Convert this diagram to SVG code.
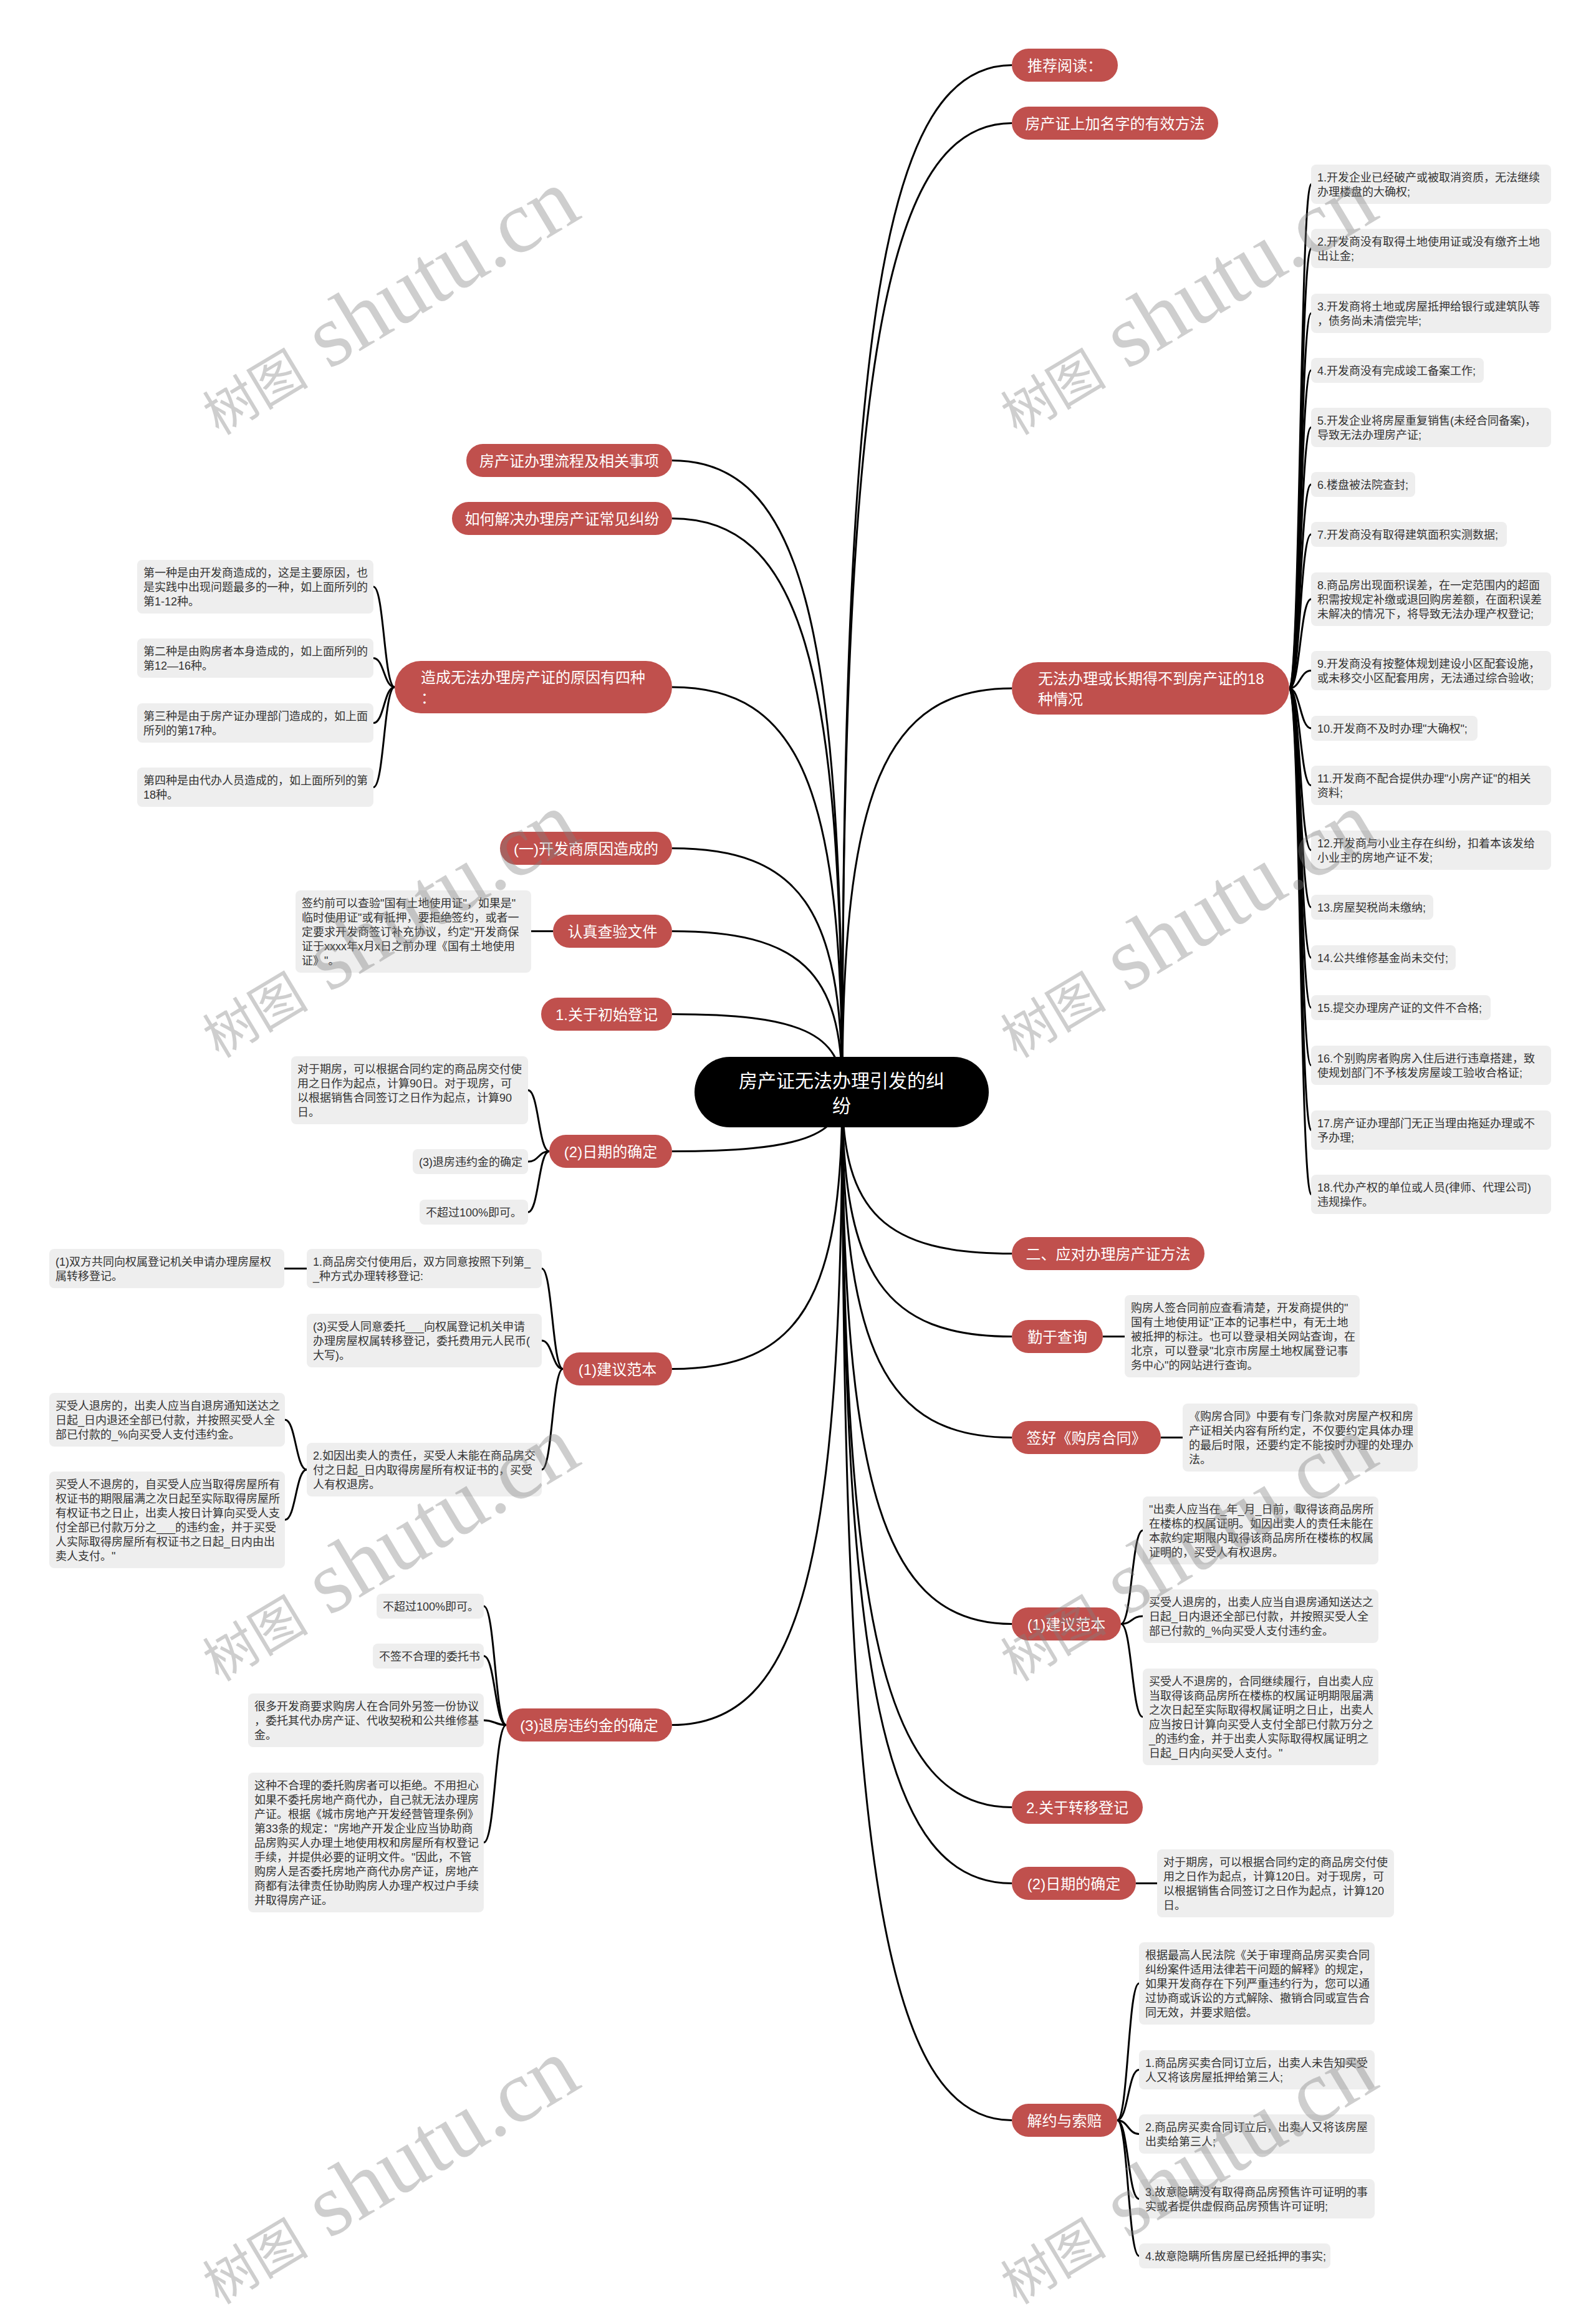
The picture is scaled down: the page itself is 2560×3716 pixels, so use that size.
<svg xmlns="http://www.w3.org/2000/svg" width="2560" height="3716" viewBox="0 0 2560 3716">
<style>
text{font-family:"Liberation Sans","Noto Sans CJK SC",sans-serif}
.p{fill:#C0504D}
.pt{font-size:24px;fill:#fff}
.pc{text-anchor:middle}
.l{fill:#EEEEEE}
.lt{font-size:18px;fill:#333}
.c path{fill:none;stroke:#000;stroke-width:3}
.wm text{font-family:"Liberation Serif","Noto Sans CJK SC",serif;fill:#808080;opacity:.38}
</style>
<rect width="2560" height="3716" fill="#fff"/>
<g id="connectors" class="c">
<path d="M1351,1751 C1351,516 1419,104.5 1623,104.5"/>
<path d="M1351,1751 C1351,586 1419,197.5 1623,197.5"/>
<path d="M1351,1751 C1351,1266 1419,1104 1623,1104"/>
<path d="M1351,1751 C1351,1945 1419,2010.5 1623,2010.5"/>
<path d="M1351,1751 C1351,2045 1419,2143.5 1623,2143.5"/>
<path d="M1351,1751 C1351,2166 1419,2305.5 1623,2305.5"/>
<path d="M1351,1751 C1351,2391 1419,2604.5 1623,2604.5"/>
<path d="M1351,1751 C1351,2611 1419,2898.5 1623,2898.5"/>
<path d="M1351,1751 C1351,2703 1419,3020.5 1623,3020.5"/>
<path d="M1351,1751 C1351,2988 1419,3400.5 1623,3400.5"/>
<path d="M1351,1751 C1351,991 1283,738.5 1078,738.5"/>
<path d="M1351,1751 C1351,1061 1283,831.5 1078,831.5"/>
<path d="M1351,1751 C1351,1264 1283,1102 1078,1102"/>
<path d="M1351,1751 C1351,1458 1283,1360.5 1078,1360.5"/>
<path d="M1351,1751 C1351,1558 1283,1493.5 1078,1493.5"/>
<path d="M1351,1751 C1351,1657 1283,1626.5 1078,1626.5"/>
<path d="M1351,1751 C1351,1822 1283,1846.5 1078,1846.5"/>
<path d="M1351,1751 C1351,2084 1283,2195.5 1078,2195.5"/>
<path d="M1351,1751 C1351,2512 1283,2766.5 1078,2766.5"/>
<path d="M2068,1104 C2085.5,1104 2085.5,295.5 2103,295.5"/>
<path d="M2068,1104 C2085.5,1104 2085.5,398.5 2103,398.5"/>
<path d="M2068,1104 C2085.5,1104 2085.5,502.5 2103,502.5"/>
<path d="M2068,1104 C2085.5,1104 2085.5,594 2103,594"/>
<path d="M2068,1104 C2085.5,1104 2085.5,685.5 2103,685.5"/>
<path d="M2068,1104 C2085.5,1104 2085.5,777 2103,777"/>
<path d="M2068,1104 C2085.5,1104 2085.5,857 2103,857"/>
<path d="M2068,1104 C2085.5,1104 2085.5,961 2103,961"/>
<path d="M2068,1104 C2085.5,1104 2085.5,1075.5 2103,1075.5"/>
<path d="M2068,1104 C2085.5,1104 2085.5,1168 2103,1168"/>
<path d="M2068,1104 C2085.5,1104 2085.5,1259.5 2103,1259.5"/>
<path d="M2068,1104 C2085.5,1104 2085.5,1363.5 2103,1363.5"/>
<path d="M2068,1104 C2085.5,1104 2085.5,1455 2103,1455"/>
<path d="M2068,1104 C2085.5,1104 2085.5,1536 2103,1536"/>
<path d="M2068,1104 C2085.5,1104 2085.5,1616 2103,1616"/>
<path d="M2068,1104 C2085.5,1104 2085.5,1708.5 2103,1708.5"/>
<path d="M2068,1104 C2085.5,1104 2085.5,1812.5 2103,1812.5"/>
<path d="M2068,1104 C2085.5,1104 2085.5,1915.5 2103,1915.5"/>
<path d="M1769,2143.5 L1804,2143.5"/>
<path d="M1862,2305.5 L1897,2305.5"/>
<path d="M1798,2604.5 C1815.5,2604.5 1815.5,2454.5 1833,2454.5"/>
<path d="M1798,2604.5 C1815.5,2604.5 1815.5,2592 1833,2592"/>
<path d="M1798,2604.5 C1815.5,2604.5 1815.5,2753.5 1833,2753.5"/>
<path d="M1822,3020.5 L1856,3020.5"/>
<path d="M1792,3400.5 C1809.5,3400.5 1809.5,3181 1827,3181"/>
<path d="M1792,3400.5 C1809.5,3400.5 1809.5,3319.5 1827,3319.5"/>
<path d="M1792,3400.5 C1809.5,3400.5 1809.5,3422.5 1827,3422.5"/>
<path d="M1792,3400.5 C1809.5,3400.5 1809.5,3526.5 1827,3526.5"/>
<path d="M1792,3400.5 C1809.5,3400.5 1809.5,3618 1827,3618"/>
<path d="M633,1102 C616,1102 616,941 599,941"/>
<path d="M633,1102 C616,1102 616,1055.5 599,1055.5"/>
<path d="M633,1102 C616,1102 616,1159.5 599,1159.5"/>
<path d="M633,1102 C616,1102 616,1262.5 599,1262.5"/>
<path d="M887,1493.5 L852,1493.5"/>
<path d="M881,1846.5 C864,1846.5 864,1748.5 847,1748.5"/>
<path d="M881,1846.5 C864,1846.5 864,1863 847,1863"/>
<path d="M881,1846.5 C864,1846.5 864,1944 847,1944"/>
<path d="M903,2195.5 C886,2195.5 886,2034.5 869,2034.5"/>
<path d="M903,2195.5 C886,2195.5 886,2150 869,2150"/>
<path d="M903,2195.5 C886,2195.5 886,2357 869,2357"/>
<path d="M492,2034.5 L456,2034.5"/>
<path d="M492,2357 C474.5,2357 474.5,2277 457,2277"/>
<path d="M492,2357 C474.5,2357 474.5,2437.5 457,2437.5"/>
<path d="M812,2766.5 C794,2766.5 794,2576 776,2576"/>
<path d="M812,2766.5 C794,2766.5 794,2656 776,2656"/>
<path d="M812,2766.5 C794,2766.5 794,2759 776,2759"/>
<path d="M812,2766.5 C794,2766.5 794,2955 776,2955"/>
</g>

<g id="root"><rect x="1114" y="1695" width="472" height="113" rx="56.5" fill="#000"/>
<text x="1350" y="1744" font-size="30" fill="#fff" text-anchor="middle">房产证无法办理引发的纠<tspan x="1350" dy="40">纷</tspan></text></g>

<g id="r1"><rect class="p" x="1623" y="78" width="170" height="53" rx="26.5"/><text class="pt pc" x="1708" y="113.5">推荐阅读：</text></g>
<g id="r2"><rect class="p" x="1623" y="171" width="331" height="53" rx="26.5"/><text class="pt pc" x="1788.5" y="206.5">房产证上加名字的有效方法</text></g>
<g id="r3"><rect class="p" x="1623" y="1062" width="445" height="84" rx="42"/><text class="pt" x="1665" y="1096.5">无法办理或长期得不到房产证的18<tspan x="1665" dy="33">种情况</tspan></text></g>
<g id="r4"><rect class="p" x="1623" y="1984" width="309" height="53" rx="26.5"/><text class="pt pc" x="1777.5" y="2019.5">二、应对办理房产证方法</text></g>
<g id="r5"><rect class="p" x="1623" y="2117" width="146" height="53" rx="26.5"/><text class="pt pc" x="1696" y="2152.5">勤于查询</text></g>
<g id="r6"><rect class="p" x="1623" y="2279" width="239" height="53" rx="26.5"/><text class="pt pc" x="1742.5" y="2314.5">签好《购房合同》</text></g>
<g id="r7"><rect class="p" x="1623" y="2578" width="175" height="53" rx="26.5"/><text class="pt pc" x="1710.5" y="2613.5">(1)建议范本</text></g>
<g id="r8"><rect class="p" x="1623" y="2872" width="210" height="53" rx="26.5"/><text class="pt pc" x="1728" y="2907.5">2.关于转移登记</text></g>
<g id="r9"><rect class="p" x="1623" y="2994" width="199" height="53" rx="26.5"/><text class="pt pc" x="1722.5" y="3029.5">(2)日期的确定</text></g>
<g id="r10"><rect class="p" x="1623" y="3374" width="169" height="53" rx="26.5"/><text class="pt pc" x="1707.5" y="3409.5">解约与索赔</text></g>

<g id="l1"><rect class="p" x="748" y="712" width="330" height="53" rx="26.5"/><text class="pt pc" x="913" y="747.5">房产证办理流程及相关事项</text></g>
<g id="l2"><rect class="p" x="725" y="805" width="353" height="53" rx="26.5"/><text class="pt pc" x="901.5" y="840.5">如何解决办理房产证常见纠纷</text></g>
<g id="l3"><rect class="p" x="633" y="1060" width="445" height="84" rx="42"/><text class="pt" x="675" y="1094.5">造成无法办理房产证的原因有四种<tspan x="675" dy="33">：</tspan></text></g>
<g id="l4"><rect class="p" x="802" y="1334" width="276" height="53" rx="26.5"/><text class="pt pc" x="940" y="1369.5">(一)开发商原因造成的</text></g>
<g id="l5"><rect class="p" x="887" y="1467" width="191" height="53" rx="26.5"/><text class="pt pc" x="982.5" y="1502.5">认真查验文件</text></g>
<g id="l6"><rect class="p" x="868" y="1600" width="210" height="53" rx="26.5"/><text class="pt pc" x="973" y="1635.5">1.关于初始登记</text></g>
<g id="l7"><rect class="p" x="881" y="1820" width="197" height="53" rx="26.5"/><text class="pt pc" x="979.5" y="1855.5">(2)日期的确定</text></g>
<g id="l8"><rect class="p" x="903" y="2169" width="175" height="53" rx="26.5"/><text class="pt pc" x="990.5" y="2204.5">(1)建议范本</text></g>
<g id="l9"><rect class="p" x="812" y="2740" width="266" height="53" rx="26.5"/><text class="pt pc" x="945" y="2775.5">(3)退房违约金的确定</text></g>

<g id="r3-1"><rect class="l" x="2103" y="264" width="385" height="63" rx="8"/><text class="lt" x="2113" y="291">1.开发企业已经破产或被取消资质，无法继续<tspan x="2113" dy="23">办理楼盘的大确权;</tspan></text></g>
<g id="r3-2"><rect class="l" x="2103" y="367" width="385" height="63" rx="8"/><text class="lt" x="2113" y="394">2.开发商没有取得土地使用证或没有缴齐土地<tspan x="2113" dy="23">出让金;</tspan></text></g>
<g id="r3-3"><rect class="l" x="2103" y="471" width="385" height="63" rx="8"/><text class="lt" x="2113" y="498">3.开发商将土地或房屋抵押给银行或建筑队等<tspan x="2113" dy="23">，债务尚未清偿完毕;</tspan></text></g>
<g id="r3-4"><rect class="l" x="2103" y="574" width="277" height="40" rx="8"/><text class="lt" x="2113" y="601">4.开发商没有完成竣工备案工作;</text></g>
<g id="r3-5"><rect class="l" x="2103" y="654" width="385" height="63" rx="8"/><text class="lt" x="2113" y="681">5.开发企业将房屋重复销售(未经合同备案)，<tspan x="2113" dy="23">导致无法办理房产证;</tspan></text></g>
<g id="r3-6"><rect class="l" x="2103" y="757" width="167" height="40" rx="8"/><text class="lt" x="2113" y="784">6.楼盘被法院查封;</text></g>
<g id="r3-7"><rect class="l" x="2103" y="837" width="314" height="40" rx="8"/><text class="lt" x="2113" y="864">7.开发商没有取得建筑面积实测数据;</text></g>
<g id="r3-8"><rect class="l" x="2103" y="918" width="385" height="86" rx="8"/><text class="lt" x="2113" y="945">8.商品房出现面积误差，在一定范围内的超面<tspan x="2113" dy="23">积需按规定补缴或退回购房差额，在面积误差</tspan><tspan x="2113" dy="23">未解决的情况下，将导致无法办理产权登记;</tspan></text></g>
<g id="r3-9"><rect class="l" x="2103" y="1044" width="385" height="63" rx="8"/><text class="lt" x="2113" y="1071">9.开发商没有按整体规划建设小区配套设施，<tspan x="2113" dy="23">或未移交小区配套用房，无法通过综合验收;</tspan></text></g>
<g id="r3-10"><rect class="l" x="2103" y="1148" width="267" height="40" rx="8"/><text class="lt" x="2113" y="1175">10.开发商不及时办理"大确权";</text></g>
<g id="r3-11"><rect class="l" x="2103" y="1228" width="385" height="63" rx="8"/><text class="lt" x="2113" y="1255">11.开发商不配合提供办理"小房产证"的相关<tspan x="2113" dy="23">资料;</tspan></text></g>
<g id="r3-12"><rect class="l" x="2103" y="1332" width="385" height="63" rx="8"/><text class="lt" x="2113" y="1359">12.开发商与小业主存在纠纷，扣着本该发给<tspan x="2113" dy="23">小业主的房地产证不发;</tspan></text></g>
<g id="r3-13"><rect class="l" x="2103" y="1435" width="196" height="40" rx="8"/><text class="lt" x="2113" y="1462">13.房屋契税尚未缴纳;</text></g>
<g id="r3-14"><rect class="l" x="2103" y="1516" width="232" height="40" rx="8"/><text class="lt" x="2113" y="1543">14.公共维修基金尚未交付;</text></g>
<g id="r3-15"><rect class="l" x="2103" y="1596" width="288" height="40" rx="8"/><text class="lt" x="2113" y="1623">15.提交办理房产证的文件不合格;</text></g>
<g id="r3-16"><rect class="l" x="2103" y="1677" width="385" height="63" rx="8"/><text class="lt" x="2113" y="1704">16.个别购房者购房入住后进行违章搭建，致<tspan x="2113" dy="23">使规划部门不予核发房屋竣工验收合格证;</tspan></text></g>
<g id="r3-17"><rect class="l" x="2103" y="1781" width="385" height="63" rx="8"/><text class="lt" x="2113" y="1808">17.房产证办理部门无正当理由拖延办理或不<tspan x="2113" dy="23">予办理;</tspan></text></g>
<g id="r3-18"><rect class="l" x="2103" y="1884" width="385" height="63" rx="8"/><text class="lt" x="2113" y="1911">18.代办产权的单位或人员(律师、代理公司)<tspan x="2113" dy="23">违规操作。</tspan></text></g>

<g id="r5-1"><rect class="l" x="1804" y="2077" width="377" height="132" rx="8"/><text class="lt" x="1814" y="2104">购房人签合同前应查看清楚，开发商提供的"<tspan x="1814" dy="23">国有土地使用证"正本的记事栏中，有无土地</tspan><tspan x="1814" dy="23">被抵押的标注。也可以登录相关网站查询，在</tspan><tspan x="1814" dy="23">北京，可以登录"北京市房屋土地权属登记事</tspan><tspan x="1814" dy="23">务中心"的网站进行查询。</tspan></text></g>
<g id="r6-1"><rect class="l" x="1897" y="2251" width="377" height="109" rx="8"/><text class="lt" x="1907" y="2278">《购房合同》中要有专门条款对房屋产权和房<tspan x="1907" dy="23">产证相关内容有所约定，不仅要约定具体办理</tspan><tspan x="1907" dy="23">的最后时限，还要约定不能按时办理的处理办</tspan><tspan x="1907" dy="23">法。</tspan></text></g>
<g id="r7-1"><rect class="l" x="1833" y="2400" width="378" height="109" rx="8"/><text class="lt" x="1843" y="2427">"出卖人应当在_年_月_日前，取得该商品房所<tspan x="1843" dy="23">在楼栋的权属证明。如因出卖人的责任未能在</tspan><tspan x="1843" dy="23">本款约定期限内取得该商品房所在楼栋的权属</tspan><tspan x="1843" dy="23">证明的，买受人有权退房。</tspan></text></g>
<g id="r7-2"><rect class="l" x="1833" y="2549" width="378" height="86" rx="8"/><text class="lt" x="1843" y="2576">买受人退房的，出卖人应当自退房通知送达之<tspan x="1843" dy="23">日起_日内退还全部已付款，并按照买受人全</tspan><tspan x="1843" dy="23">部已付款的_%向买受人支付违约金。</tspan></text></g>
<g id="r7-3"><rect class="l" x="1833" y="2676" width="378" height="155" rx="8"/><text class="lt" x="1843" y="2703">买受人不退房的，合同继续履行，自出卖人应<tspan x="1843" dy="23">当取得该商品房所在楼栋的权属证明期限届满</tspan><tspan x="1843" dy="23">之次日起至实际取得权属证明之日止，出卖人</tspan><tspan x="1843" dy="23">应当按日计算向买受人支付全部已付款万分之</tspan><tspan x="1843" dy="23">_的违约金，并于出卖人实际取得权属证明之</tspan><tspan x="1843" dy="23">日起_日内向买受人支付。"</tspan></text></g>
<g id="r9-1"><rect class="l" x="1856" y="2966" width="380" height="109" rx="8"/><text class="lt" x="1866" y="2993">对于期房，可以根据合同约定的商品房交付使<tspan x="1866" dy="23">用之日作为起点，计算120日。对于现房，可</tspan><tspan x="1866" dy="23">以根据销售合同签订之日作为起点，计算120</tspan><tspan x="1866" dy="23">日。</tspan></text></g>
<g id="r10-1"><rect class="l" x="1827" y="3115" width="378" height="132" rx="8"/><text class="lt" x="1837" y="3142">根据最高人民法院《关于审理商品房买卖合同<tspan x="1837" dy="23">纠纷案件适用法律若干问题的解释》的规定，</tspan><tspan x="1837" dy="23">如果开发商存在下列严重违约行为，您可以通</tspan><tspan x="1837" dy="23">过协商或诉讼的方式解除、撤销合同或宣告合</tspan><tspan x="1837" dy="23">同无效，并要求赔偿。</tspan></text></g>
<g id="r10-2"><rect class="l" x="1827" y="3288" width="378" height="63" rx="8"/><text class="lt" x="1837" y="3315">1.商品房买卖合同订立后，出卖人未告知买受<tspan x="1837" dy="23">人又将该房屋抵押给第三人;</tspan></text></g>
<g id="r10-3"><rect class="l" x="1827" y="3391" width="378" height="63" rx="8"/><text class="lt" x="1837" y="3418">2.商品房买卖合同订立后，出卖人又将该房屋<tspan x="1837" dy="23">出卖给第三人;</tspan></text></g>
<g id="r10-4"><rect class="l" x="1827" y="3495" width="378" height="63" rx="8"/><text class="lt" x="1837" y="3522">3.故意隐瞒没有取得商品房预售许可证明的事<tspan x="1837" dy="23">实或者提供虚假商品房预售许可证明;</tspan></text></g>
<g id="r10-5"><rect class="l" x="1827" y="3598" width="307" height="40" rx="8"/><text class="lt" x="1837" y="3625">4.故意隐瞒所售房屋已经抵押的事实;</text></g>

<g id="l3-1"><rect class="l" x="220" y="898" width="379" height="86" rx="8"/><text class="lt" x="230" y="925">第一种是由开发商造成的，这是主要原因，也<tspan x="230" dy="23">是实践中出现问题最多的一种，如上面所列的</tspan><tspan x="230" dy="23">第1-12种。</tspan></text></g>
<g id="l3-2"><rect class="l" x="220" y="1024" width="379" height="63" rx="8"/><text class="lt" x="230" y="1051">第二种是由购房者本身造成的，如上面所列的<tspan x="230" dy="23">第12—16种。</tspan></text></g>
<g id="l3-3"><rect class="l" x="220" y="1128" width="379" height="63" rx="8"/><text class="lt" x="230" y="1155">第三种是由于房产证办理部门造成的，如上面<tspan x="230" dy="23">所列的第17种。</tspan></text></g>
<g id="l3-4"><rect class="l" x="220" y="1231" width="379" height="63" rx="8"/><text class="lt" x="230" y="1258">第四种是由代办人员造成的，如上面所列的第<tspan x="230" dy="23">18种。</tspan></text></g>
<g id="l5-1"><rect class="l" x="474" y="1428" width="378" height="132" rx="8"/><text class="lt" x="484" y="1455">签约前可以查验"国有土地使用证"，如果是"<tspan x="484" dy="23">临时使用证"或有抵押，要拒绝签约，或者一</tspan><tspan x="484" dy="23">定要求开发商签订补充协议，约定"开发商保</tspan><tspan x="484" dy="23">证于xxxx年x月x日之前办理《国有土地使用</tspan><tspan x="484" dy="23">证》"。</tspan></text></g>
<g id="l7-1"><rect class="l" x="467" y="1694" width="380" height="109" rx="8"/><text class="lt" x="477" y="1721">对于期房，可以根据合同约定的商品房交付使<tspan x="477" dy="23">用之日作为起点，计算90日。对于现房，可</tspan><tspan x="477" dy="23">以根据销售合同签订之日作为起点，计算90</tspan><tspan x="477" dy="23">日。</tspan></text></g>
<g id="l7-2"><rect class="l" x="662" y="1843" width="185" height="40" rx="8"/><text class="lt" x="672" y="1870">(3)退房违约金的确定</text></g>
<g id="l7-3"><rect class="l" x="673" y="1924" width="174" height="40" rx="8"/><text class="lt" x="683" y="1951">不超过100%即可。</text></g>
<g id="l8-1"><rect class="l" x="492" y="2003" width="377" height="63" rx="8"/><text class="lt" x="502" y="2030">1.商品房交付使用后，双方同意按照下列第_<tspan x="502" dy="23">_种方式办理转移登记:</tspan></text></g>
<g id="l8-1-1"><rect class="l" x="79" y="2003" width="377" height="63" rx="8"/><text class="lt" x="89" y="2030">(1)双方共同向权属登记机关申请办理房屋权<tspan x="89" dy="23">属转移登记。</tspan></text></g>
<g id="l8-2"><rect class="l" x="492" y="2107" width="377" height="86" rx="8"/><text class="lt" x="502" y="2134">(3)买受人同意委托___向权属登记机关申请<tspan x="502" dy="23">办理房屋权属转移登记，委托费用元人民币(</tspan><tspan x="502" dy="23">大写)。</tspan></text></g>
<g id="l8-3"><rect class="l" x="492" y="2314" width="377" height="86" rx="8"/><text class="lt" x="502" y="2341">2.如因出卖人的责任，买受人未能在商品房交<tspan x="502" dy="23">付之日起_日内取得房屋所有权证书的，买受</tspan><tspan x="502" dy="23">人有权退房。</tspan></text></g>
<g id="l8-3-1"><rect class="l" x="79" y="2234" width="378" height="86" rx="8"/><text class="lt" x="89" y="2261">买受人退房的，出卖人应当自退房通知送达之<tspan x="89" dy="23">日起_日内退还全部已付款，并按照买受人全</tspan><tspan x="89" dy="23">部已付款的_%向买受人支付违约金。</tspan></text></g>
<g id="l8-3-2"><rect class="l" x="79" y="2360" width="378" height="155" rx="8"/><text class="lt" x="89" y="2387">买受人不退房的，自买受人应当取得房屋所有<tspan x="89" dy="23">权证书的期限届满之次日起至实际取得房屋所</tspan><tspan x="89" dy="23">有权证书之日止，出卖人按日计算向买受人支</tspan><tspan x="89" dy="23">付全部已付款万分之___的违约金，并于买受</tspan><tspan x="89" dy="23">人实际取得房屋所有权证书之日起_日内由出</tspan><tspan x="89" dy="23">卖人支付。"</tspan></text></g>
<g id="l9-1"><rect class="l" x="604" y="2556" width="172" height="40" rx="8"/><text class="lt" x="614" y="2583">不超过100%即可。</text></g>
<g id="l9-2"><rect class="l" x="598" y="2636" width="178" height="40" rx="8"/><text class="lt" x="608" y="2663">不签不合理的委托书</text></g>
<g id="l9-3"><rect class="l" x="398" y="2716" width="378" height="86" rx="8"/><text class="lt" x="408" y="2743">很多开发商要求购房人在合同外另签一份协议<tspan x="408" dy="23">，委托其代办房产证、代收契税和公共维修基</tspan><tspan x="408" dy="23">金。</tspan></text></g>
<g id="l9-4"><rect class="l" x="398" y="2843" width="378" height="224" rx="8"/><text class="lt" x="408" y="2870">这种不合理的委托购房者可以拒绝。不用担心<tspan x="408" dy="23">如果不委托房地产商代办，自己就无法办理房</tspan><tspan x="408" dy="23">产证。根据《城市房地产开发经营管理条例》</tspan><tspan x="408" dy="23">第33条的规定："房地产开发企业应当协助商</tspan><tspan x="408" dy="23">品房购买人办理土地使用权和房屋所有权登记</tspan><tspan x="408" dy="23">手续，并提供必要的证明文件。"因此，不管</tspan><tspan x="408" dy="23">购房人是否委托房地产商代办房产证，房地产</tspan><tspan x="408" dy="23">商都有法律责任协助购房人办理产权过户手续</tspan><tspan x="408" dy="23">并取得房产证。</tspan></text></g>

<g id="watermarks" class="wm">
<text x="351" y="699" transform="rotate(-31 351 699)"><tspan font-size="85">树图</tspan><tspan font-size="142"> shutu.cn</tspan></text>
<text x="1631" y="699" transform="rotate(-31 1631 699)"><tspan font-size="85">树图</tspan><tspan font-size="142"> shutu.cn</tspan></text>
<text x="351" y="1698" transform="rotate(-31 351 1698)"><tspan font-size="85">树图</tspan><tspan font-size="142"> shutu.cn</tspan></text>
<text x="1631" y="1698" transform="rotate(-31 1631 1698)"><tspan font-size="85">树图</tspan><tspan font-size="142"> shutu.cn</tspan></text>
<text x="351" y="2698" transform="rotate(-31 351 2698)"><tspan font-size="85">树图</tspan><tspan font-size="142"> shutu.cn</tspan></text>
<text x="1631" y="2698" transform="rotate(-31 1631 2698)"><tspan font-size="85">树图</tspan><tspan font-size="142"> shutu.cn</tspan></text>
<text x="351" y="3697" transform="rotate(-31 351 3697)"><tspan font-size="85">树图</tspan><tspan font-size="142"> shutu.cn</tspan></text>
<text x="1631" y="3697" transform="rotate(-31 1631 3697)"><tspan font-size="85">树图</tspan><tspan font-size="142"> shutu.cn</tspan></text>
</g>
</svg>
